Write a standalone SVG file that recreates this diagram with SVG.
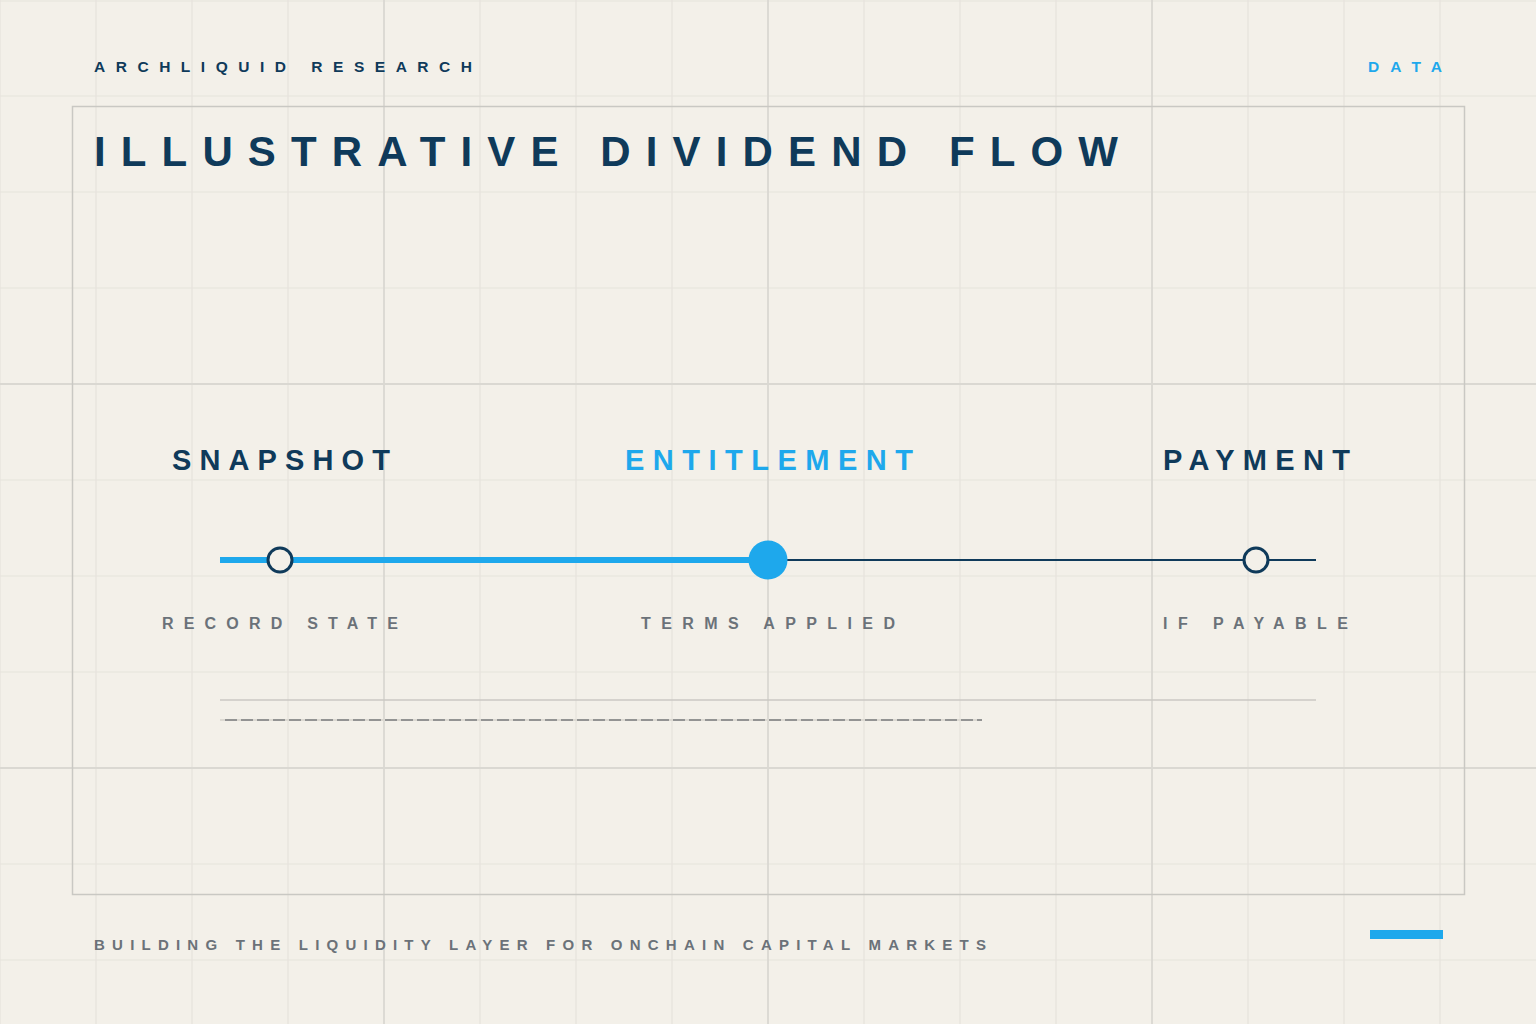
<svg xmlns="http://www.w3.org/2000/svg" width="1536" height="1024" viewBox="0 0 1536 1024">
<style>
.g{stroke:#e6e3dc;stroke-width:1.2}
.gm{stroke:#dad8d2;stroke-width:1.8}
.t{font-family:"Liberation Sans",Arial,sans-serif;font-weight:bold}
.navy{fill:#0f3a5a}
.blue{fill:#1ea8ec}
.grey{fill:#6b7279}
</style>
<rect width="1536" height="1024" fill="#f3f0e9"/>
<g id="grid">
<path class="g" d="M0 0V1024M96 0V1024M192 0V1024M288 0V1024M480 0V1024M576 0V1024M672 0V1024M864 0V1024M960 0V1024M1056 0V1024M1248 0V1024M1344 0V1024M1440 0V1024M0 1H1536M0 96H1536M0 192H1536M0 288H1536M0 480H1536M0 576H1536M0 672H1536M0 864H1536M0 960H1536"/>
<path class="gm" d="M384 0V1024M768 0V1024M1152 0V1024M0 384H1536M0 768H1536"/>
</g>
<rect id="frame" x="72.5" y="106.5" width="1392" height="788" fill="none" stroke="#c9c8c3" stroke-width="1.5"/>
<g id="header">
<text class="t navy" x="94" y="72" font-size="15.5" textLength="378" lengthAdjust="spacing">ARCHLIQUID RESEARCH</text>
<text class="t blue" x="1368" y="72" font-size="15.5" textLength="74" lengthAdjust="spacing">DATA</text>
<text class="t navy" x="94" y="166" font-size="42" textLength="1024" lengthAdjust="spacing">ILLUSTRATIVE DIVIDEND FLOW</text>
</g>
<g id="connectors">
<line x1="220" y1="560" x2="768" y2="560" stroke="#1ea8ec" stroke-width="6"/>
<line x1="768" y1="560" x2="1316" y2="560" stroke="#0f3a5a" stroke-width="2"/>
<line x1="220" y1="700" x2="1316" y2="700" stroke="#cbc9c3" stroke-width="1.5"/>
<line x1="220" y1="720" x2="982" y2="720" stroke="#dcd9d2" stroke-width="2"/>
<line x1="225" y1="720" x2="982" y2="720" stroke="#4a4f55" stroke-width="1" stroke-dasharray="12 4"/>
</g>
<g id="snapshot">
<text class="t navy" x="172" y="470" font-size="29" textLength="218" lengthAdjust="spacing">SNAPSHOT</text>
<circle cx="280" cy="560" r="12" fill="#f3f0e9" stroke="#0f3a5a" stroke-width="3"/>
<text class="t grey" x="162" y="629" font-size="16" textLength="236" lengthAdjust="spacing">RECORD STATE</text>
</g>
<g id="entitlement">
<text class="t blue" x="625" y="470" font-size="29" textLength="288" lengthAdjust="spacing">ENTITLEMENT</text>
<circle cx="768" cy="560" r="19.5" fill="#1ea8ec"/>
<text class="t grey" x="641" y="629" font-size="16" textLength="254" lengthAdjust="spacing">TERMS APPLIED</text>
</g>
<g id="payment">
<text class="t navy" x="1163" y="470" font-size="29" textLength="187" lengthAdjust="spacing">PAYMENT</text>
<circle cx="1256" cy="560" r="12" fill="#f3f0e9" stroke="#0f3a5a" stroke-width="3"/>
<text class="t grey" x="1163" y="629" font-size="16" textLength="185" lengthAdjust="spacing">IF PAYABLE</text>
</g>
<g id="footer">
<text class="t grey" x="94" y="950" font-size="15" textLength="892" lengthAdjust="spacing">BUILDING THE LIQUIDITY LAYER FOR ONCHAIN CAPITAL MARKETS</text>
<rect x="1370" y="930" width="73" height="9" fill="#1ea8ec"/>
</g>
</svg>
